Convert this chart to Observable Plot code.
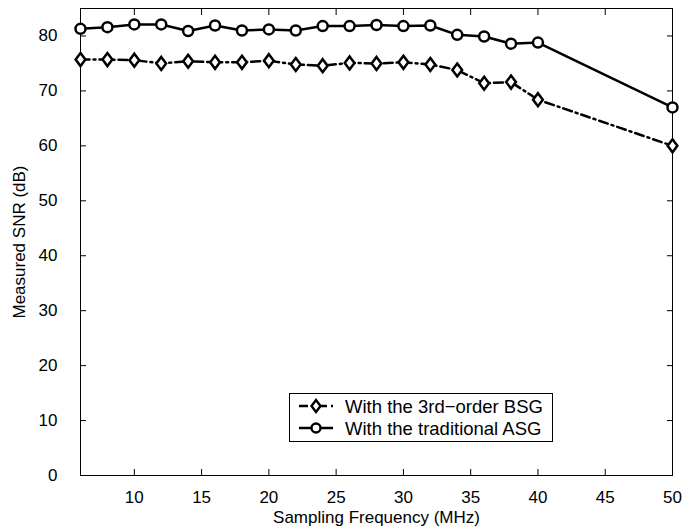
<!DOCTYPE html>
<html><head><meta charset="utf-8">
<script src="https://cdn.jsdelivr.net/npm/d3@7"></script>
<script src="https://cdn.jsdelivr.net/npm/@observablehq/plot@0.6"></script>
<style>
body{margin:0;background:#fff;font-family:"Liberation Sans",Arial,sans-serif;}
#wrap{position:relative;width:694px;height:529px;}
#legend{position:absolute;left:289px;top:393px;width:264px;height:49px;border:1px solid #000;background:#fff;box-sizing:border-box;font-size:18px;}
</style></head><body>
<div id="wrap"><div id="chart"></div>
<div id="legend"></div></div>
<script>
const freq = [6,8,10,12,14,16,18,20,22,24,26,28,30,32,34,36,38,40,50];
const bsg = [75.7,75.7,75.6,75.0,75.4,75.2,75.2,75.5,74.8,74.6,75.1,75.0,75.2,74.8,73.8,71.4,71.6,68.4,60.0];
const asg = [81.3,81.6,82.1,82.1,80.9,81.9,81.0,81.2,81.0,81.8,81.8,82.0,81.8,81.9,80.2,79.9,78.6,78.8,67.0];
const seriesNames = ["With the 3rd\u2212order BSG","With the traditional ASG"];
const xTicks = [10,15,20,25,30,35,40,45,50];
const yTicks = [0,10,20,30,40,50,60,70,80];

const dBSG = freq.map((f,i)=>({f, v:bsg[i]}));
const dASG = freq.map((f,i)=>({f, v:asg[i]}));
const dash = "9,4,2,4";
const font = '"Liberation Sans", Arial, sans-serif';

const diamond = {draw(ctx, size){ const r = Math.sqrt(size/Math.PI); const s = r*1.3; ctx.moveTo(0,-s); ctx.lineTo(s*0.75,0); ctx.lineTo(0,s); ctx.lineTo(-s*0.75,0); ctx.closePath(); }};

const chart = Plot.plot({
  width: 694, height: 529,
  marginLeft: 80, marginRight: 22, marginTop: 8, marginBottom: 54,
  style: {fontFamily: font, fontSize: "17px", color: "#000", background: "#fff"},
  x: {domain: [6,50], ticks: xTicks},
  y: {domain: [0,85], ticks: yTicks},
  marks: [
    Plot.frame({stroke: "#000", strokeWidth: 1}),
    Plot.axisX(xTicks, {anchor: "bottom", tickSize: -6, tickPadding: 21, label: "Sampling Frequency (MHz)", labelAnchor: "center", labelOffset: 47, labelArrow: "none", fontSize: 17}),
    Plot.axisX(xTicks, {anchor: "top", tickSize: -6, tickFormat: () => "", label: null}),
    Plot.axisY(yTicks, {anchor: "left", tickSize: -6, tickPadding: 29, label: "Measured SNR (dB)", labelAnchor: "center", labelOffset: 68, labelArrow: "none", fontSize: 17}),
    Plot.axisY(yTicks, {anchor: "right", tickSize: -6, tickFormat: () => "", label: null}),
    Plot.line(dBSG, {x: "f", y: "v", stroke: "#000", strokeWidth: 2.5, strokeDasharray: dash}),
    Plot.line(dASG, {x: "f", y: "v", stroke: "#000", strokeWidth: 2.5}),
    Plot.dot(dBSG, {x: "f", y: "v", symbol: diamond, r: 5, stroke: "#000", strokeWidth: 2.5, fill: "#fff"}),
    Plot.dot(dASG, {x: "f", y: "v", symbol: "circle", r: 5, stroke: "#000", strokeWidth: 2.5, fill: "#fff"})
  ]
});
document.getElementById("chart").appendChild(chart);

// legend
const leg = d3.select("#legend").append("svg").attr("width", 264).attr("height", 49);
const rows = [{name: seriesNames[0], dash: dash, sym: "diamond"}, {name: seriesNames[1], dash: null, sym: "circle"}];
rows.forEach((r, i) => {
  const y = 12 + i*22;
  leg.append("line").attr("x1", 9).attr("x2", 43).attr("y1", y).attr("y2", y)
    .attr("stroke", "#000").attr("stroke-width", 2.5).attr("stroke-dasharray", r.dash);
  if (r.sym === "circle") {
    leg.append("circle").attr("cx", 26).attr("cy", y).attr("r", 4.5).attr("fill", "#fff").attr("stroke", "#000").attr("stroke-width", 2.4);
  } else {
    leg.append("path").attr("d", `M26,${y-6}L30.5,${y}L26,${y+6}L21.5,${y}Z`).attr("fill", "#fff").attr("stroke", "#000").attr("stroke-width", 2.4);
  }
  leg.append("text").attr("x", 55).attr("y", y + 6.5).attr("font-size", 18.5).attr("font-family", font).text(r.name);
});
</script>
</body></html>
